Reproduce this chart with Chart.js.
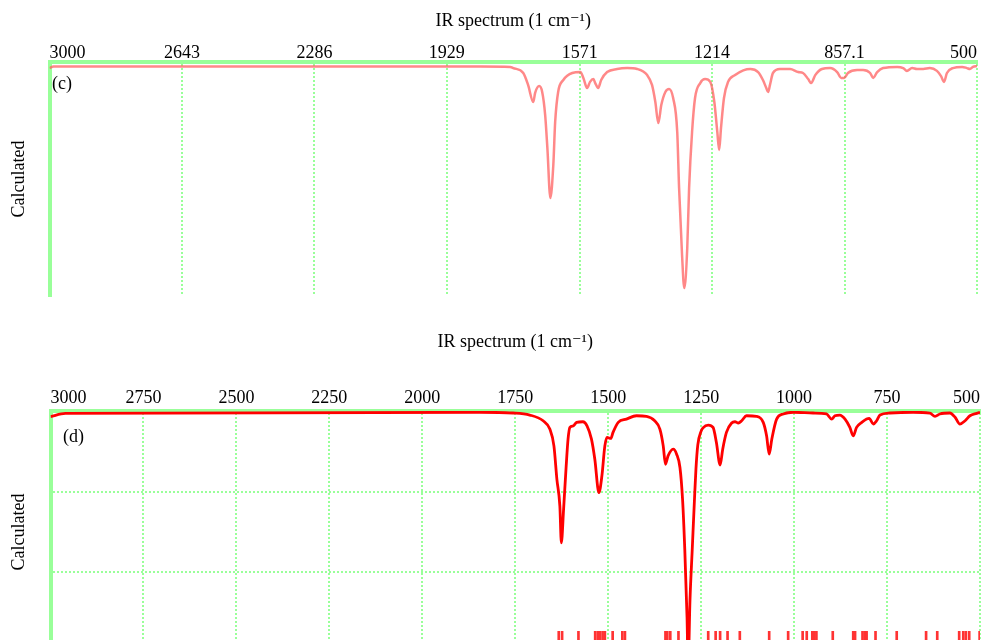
<!DOCTYPE html>
<html>
<head>
<meta charset="utf-8">
<title>IR spectrum</title>
<script src="https://cdn.jsdelivr.net/npm/chart.js@4.4.1/dist/chart.umd.min.js"></script>
<style>
  html, body { margin: 0; padding: 0; background: #fff; overflow: hidden; width: 988px; height: 640px; }
  canvas { position: absolute; left: 0; }
  #chart-c { top: 0; }
  #chart-d { top: 320px; }
</style>
</head>
<body>
<canvas id="chart-c" width="988" height="310"></canvas>
<canvas id="chart-d" width="988" height="348"></canvas>
<script>
// panel (c): calculated spectrum, intensity in % of plot depth
var topWavenumber = [3000, 2989, 1839, 1758, 1750, 1723, 1710, 1696, 1691, 1680,
  1672, 1664, 1658, 1650, 1642, 1637, 1629, 1615, 1591, 1569,
  1561, 1551, 1543, 1534, 1529, 1521, 1513, 1497, 1470, 1443,
  1416, 1389, 1376, 1367, 1359, 1351, 1340, 1330, 1319, 1308,
  1303, 1295, 1289, 1281, 1276, 1268, 1260, 1246, 1233, 1219,
  1208, 1200, 1195, 1190, 1182, 1171, 1152, 1130, 1111, 1090,
  1077, 1068, 1063, 1058, 1050, 1031, 1004, 982, 969, 955,
  947, 936, 918, 896, 877, 866, 858, 848, 823, 807,
  788, 780, 769, 753, 715, 699, 689, 675, 662, 645,
  627, 608, 597, 589, 581, 565, 540, 527, 519, 511, 500];
var topIntensity = [2.6, 1.9, 1.9, 2.1, 2.6, 4.7, 9.8, 17.1, 13.2, 10.3,
  12.8, 22.6, 36.8, 58.1, 44.0, 25.6, 12.8, 7.7, 4.7, 4.3,
  6.8, 11.1, 8.5, 7.3, 9.0, 11.1, 7.7, 4.3, 3.0, 2.6,
  3.0, 5.6, 9.8, 17.1, 26.1, 18.4, 12.8, 11.5, 15.4, 29.9,
  53.8, 82.5, 96.6, 79.5, 53.8, 29.9, 15.4, 9.0, 7.3, 8.5,
  17.1, 29.9, 37.6, 28.2, 15.4, 8.5, 5.6, 3.6, 3.0, 4.3,
  7.7, 11.1, 12.8, 9.8, 4.7, 3.0, 3.0, 4.3, 4.7, 7.3,
  9.0, 5.6, 3.0, 2.6, 4.3, 6.8, 6.8, 4.7, 3.4, 3.4,
  4.7, 6.8, 4.3, 2.6, 2.1, 2.6, 3.8, 2.6, 3.0, 3.0,
  2.6, 3.8, 6.0, 8.5, 4.7, 2.6, 2.1, 2.6, 3.0, 2.1, 1.7];
var topTicks = [500, 857.1, 1214, 1571, 1929, 2286, 2643, 3000];

// panel (d): calculated spectrum, intensity in grid units
var bottomWavenumber = [3000, 2960, 1846, 1756, 1711, 1675, 1657, 1646, 1638, 1630,
  1626, 1620, 1613, 1608, 1603, 1594, 1585, 1568, 1557, 1545,
  1536, 1525, 1517, 1509, 1503, 1493, 1487, 1473, 1451, 1424,
  1397, 1375, 1361, 1352, 1346, 1339, 1325, 1316, 1307, 1300,
  1294, 1288, 1285, 1280, 1274, 1268, 1264, 1259, 1250, 1245,
  1231, 1218, 1209, 1199, 1192, 1182, 1168, 1159, 1150, 1141,
  1128, 1101, 1083, 1074, 1067, 1060, 1047, 1029, 1002, 949,
  913, 899, 890, 877, 863, 850, 841, 832, 818, 805,
  798, 787, 778, 769, 742, 680, 635, 621, 608, 581,
  567, 554, 540, 527, 509, 500];
var bottomIntensity = [0.07, 0.03, 0.016, 0.025, 0.05, 0.121, 0.224, 0.432, 0.847, 1.179,
  1.635, 1.22, 0.681, 0.349, 0.203, 0.185, 0.141, 0.133, 0.183, 0.349,
  0.598, 1.012, 0.806, 0.432, 0.328, 0.34, 0.265, 0.141, 0.1, 0.059,
  0.066, 0.121, 0.224, 0.432, 0.66, 0.557, 0.473, 0.535, 0.7, 1.096,
  1.719, 2.549, 3.15, 2.34, 1.72, 1.1, 0.72, 0.42, 0.25, 0.21,
  0.174, 0.203, 0.39, 0.67, 0.473, 0.265, 0.149, 0.133, 0.149, 0.121,
  0.059, 0.066, 0.141, 0.308, 0.535, 0.349, 0.1, 0.037, 0.016, 0.025,
  0.037, 0.1, 0.059, 0.05, 0.1, 0.203, 0.308, 0.203, 0.141, 0.1,
  0.091, 0.162, 0.121, 0.05, 0.025, 0.016, 0.025, 0.066, 0.037, 0.025,
  0.078, 0.162, 0.121, 0.059, 0.029, 0.016];
var bottomTicks = [500, 750, 1000, 1250, 1500, 1750, 2000, 2250, 2500, 2750, 3000];

// stick spectrum (normal modes) along the bottom of panel (d)
var stickWavenumber = [1633, 1624, 1580, 1535, 1528, 1522, 1515, 1509, 1488, 1462,
  1455, 1346, 1341, 1333, 1311, 1287, 1231, 1211, 1199, 1179,
  1146, 1067, 1016, 977, 966, 951, 946, 940, 896, 841,
  836, 816, 810, 805, 781, 724, 645, 615, 556, 545,
  538, 529, 501];
var stickTop = 2.73;

var titleText = "IR spectrum (1 cm\u207B\u00B9)";
var yTitle = "Calculated";

Chart.defaults.font.family = '"Liberation Serif", "DejaVu Serif", serif';
Chart.defaults.color = "#000";

var green = "#99ff99";
var serif18 = { size: 18, lineHeight: 1.2, weight: "normal" };

// "(c)" / "(d)" inside the plot
var panelLabel = {
  id: "panelLabel",
  afterDraw: function(chart, args, opts) {
    var ctx = chart.ctx;
    ctx.save();
    ctx.font = '18px "Liberation Serif", serif';
    ctx.fillStyle = "#000";
    ctx.textBaseline = "middle";
    ctx.fillText(opts.text, chart.chartArea.left + opts.dx, chart.chartArea.top + opts.dy);
    ctx.restore();
  }
};

function toPoints(xs, ys) {
  return xs.map(function(x, i) { return { x: x, y: ys[i] }; });
}

function xAxis(ticks, height, padding) {
  return {
    type: "linear",
    position: "top",
    min: 500,
    max: 3000,
    reverse: true,
    offset: false,
    afterBuildTicks: function(scale) {
      scale.ticks = ticks.map(function(v) { return { value: v }; });
    },
    afterFit: function(scale) { scale.height = height; },
    ticks: {
      font: serif18,
      padding: padding,
      maxRotation: 0,
      autoSkip: false,
      align: "inner",
      callback: function(value) { return String(value); }
    },
    grid: { color: green, lineWidth: 2, drawTicks: false, offset: false },
    border: { color: green, width: 4, dash: [2, 2] }
  };
}

function yAxis(width, max, showGrid) {
  return {
    type: "linear",
    min: 0,
    max: max,
    reverse: true,
    afterFit: function(scale) { scale.width = width; },
    ticks: { display: false, stepSize: 1 },
    grid: { display: showGrid, color: green, lineWidth: 2, drawTicks: false },
    border: { color: green, width: 4, dash: [2, 2] },
    title: { display: true, text: yTitle, font: serif18, padding: { top: 8, bottom: 0 } }
  };
}

new Chart(document.getElementById("chart-c"), {
  type: "line",
  data: {
    datasets: [{
      data: toPoints(topWavenumber, topIntensity),
      borderColor: "rgba(255, 90, 90, 0.72)",
      borderWidth: 2.5,
      pointRadius: 0,
      cubicInterpolationMode: "monotone",
      fill: false
    }]
  },
  options: {
    responsive: false,
    animation: false,
    events: [],
    layout: { padding: { left: 0, right: 11, top: 0, bottom: 14 } },
    scales: {
      x: xAxis(topTicks, 26.4, -2),
      y: yAxis(49.5, 100, false)
    },
    plugins: {
      legend: { display: false },
      tooltip: { enabled: false },
      title: { display: true, text: titleText, font: serif18, fullSize: false, padding: { top: 10, bottom: 4 } },
      panelLabel: { text: "(c)", dx: 2.5, dy: 22 }
    }
  },
  plugins: [panelLabel]
});

new Chart(document.getElementById("chart-d"), {
  type: "line",
  data: {
    datasets: [{
      type: "line",
      data: toPoints(bottomWavenumber, bottomIntensity),
      borderColor: "#ff0000",
      borderWidth: 2.8,
      pointRadius: 0,
      cubicInterpolationMode: "monotone",
      fill: false
    }, {
      type: "bar",
      data: stickWavenumber.map(function(v) { return { x: v, y: [3, stickTop] }; }),
      backgroundColor: "#ff3333",
      borderWidth: 0,
      barThickness: 2,
      grouped: false
    }]
  },
  options: {
    responsive: false,
    animation: false,
    events: [],
    layout: { padding: { left: 0, right: 8, top: 0, bottom: 15 } },
    scales: {
      x: xAxis(bottomTicks, 54.4, 1.5),
      y: yAxis(50.5, 3, true)
    },
    plugins: {
      legend: { display: false },
      tooltip: { enabled: false },
      title: { display: true, text: titleText, font: serif18, fullSize: false, padding: { top: 11, bottom: 4 } },
      panelLabel: { text: "(d)", dx: 12.5, dy: 26 }
    }
  },
  plugins: [panelLabel]
});
</script>
</body>
</html>
